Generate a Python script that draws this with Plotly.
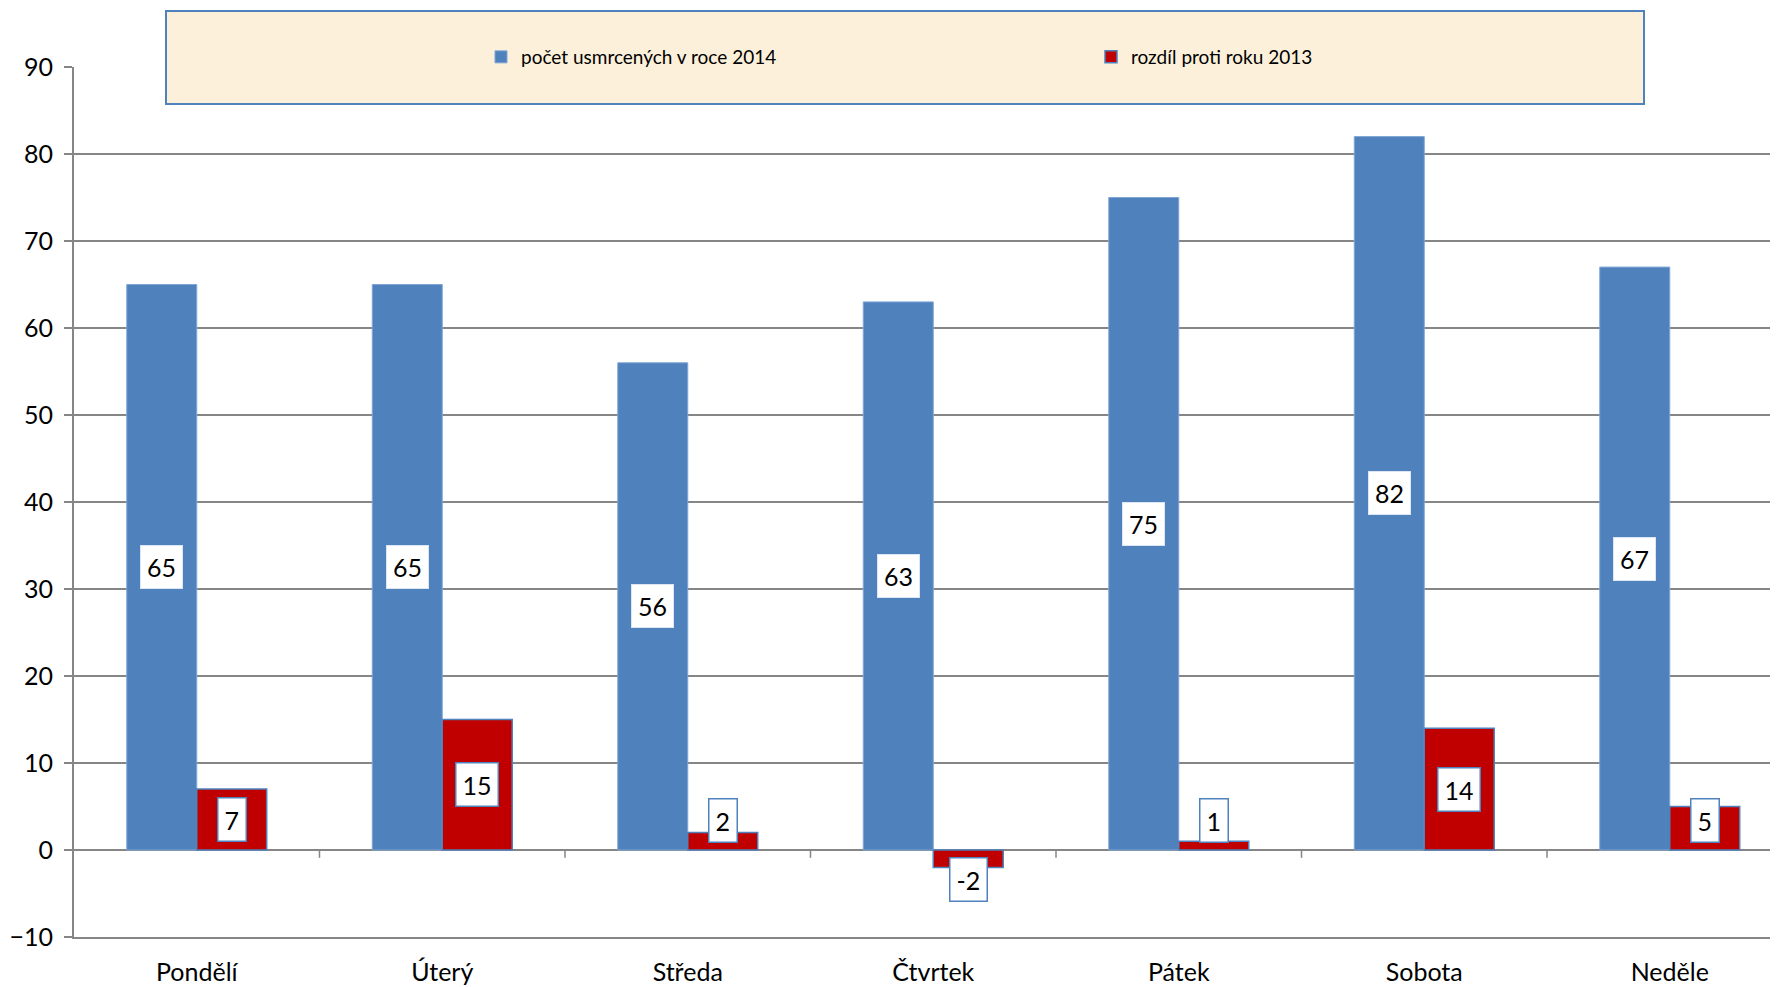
import plotly.graph_objects as go

days = ["Pondělí", "Úterý", "Středa", "Čtvrtek", "Pátek", "Sobota", "Neděle"]
killed_2014 = [65, 65, 56, 63, 75, 82, 67]
diff_2013 = [7, 15, 2, -2, 1, 14, 5]
y_ticks = [-10, 0, 10, 20, 30, 40, 50, 60, 70, 80, 90]

BLUE = "#4F81BD"
RED = "#C00000"
FONT = "Lato, 'Open Sans', sans-serif"

OFF = 8  # page body margin
W, H = 1778, 987
ML, MR, MT, MB = 74 - OFF, 0, 67 - OFF, H - (937 - OFF)
pw = W - ML - MR
ph = H - MT - MB
CAT_PX = 245.5

fig = go.Figure()
fig.add_trace(go.Bar(x=days, y=killed_2014, name="počet usmrcených v roce 2014",
                     marker=dict(color=BLUE, line=dict(color="#7EA6D6", width=1))))
fig.add_trace(go.Bar(x=days, y=diff_2013, name="rozdíl proti roku 2013",
                     marker=dict(color=RED, line=dict(color=BLUE, width=1.5))))

bargap = 0.43
off = (1 - bargap) / 4
MINLAB = 3.4
for i, (a, b) in enumerate(zip(killed_2014, diff_2013)):
    fig.add_annotation(x=i - off, y=a / 2, text=str(a), showarrow=False,
                       font=dict(size=25, color="black", family=FONT),
                       bgcolor="white", bordercolor="#DCE6F2", borderwidth=1, borderpad=6)
    yb = b / 2 if abs(b) / 2 >= MINLAB else (MINLAB if b >= 0 else -MINLAB)
    fig.add_annotation(x=i + off, y=yb, text=str(b), showarrow=False,
                       font=dict(size=25, color="black", family=FONT),
                       bgcolor="white", bordercolor=BLUE, borderwidth=1.5, borderpad=6)

# small category-boundary ticks at the zero line
shapes = []
for i in range(len(days) - 1):
    shapes.append(dict(type="line", xref="x", yref="y", x0=i + 0.5, x1=i + 0.5,
                       y0=0, y1=-0.9, line=dict(color="#868686", width=1.5)))
# legend box (page pixel coords -> paper)
def px_x(px):
    return (px - OFF - ML) / pw
def px_y(py):
    return (H - MB - (py - OFF)) / ph
shapes.append(dict(type="rect", xref="paper", yref="paper",
                   x0=px_x(166), x1=px_x(1644), y0=px_y(104), y1=px_y(11),
                   fillcolor="#FCF0DA", line=dict(color=BLUE, width=2), layer="above"))

fig.update_layout(
    width=W, height=H,
    margin=dict(l=ML, r=MR, t=MT, b=MB, autoexpand=False),
    paper_bgcolor="white", plot_bgcolor="white",
    barmode="group", bargap=bargap, bargroupgap=0,
    font=dict(family=FONT, size=22, color="black"),
    shapes=shapes,
    showlegend=True,
    legend=dict(orientation="h", x=px_x(481), y=px_y(57), xanchor="left", yanchor="middle",
                bgcolor="rgba(0,0,0,0)", font=dict(size=19, family=FONT, color="black"),
                entrywidth=565, entrywidthmode="pixels", itemwidth=30),
    xaxis=dict(range=[-0.5, -0.5 + pw / CAT_PX], showgrid=False, ticks="",
               showline=True, linecolor="#868686", linewidth=2,
               tickfont=dict(size=25, family=FONT), ticklabelstandoff=12),
    yaxis=dict(range=[-10, 90], tickvals=y_ticks, showgrid=True, gridcolor="#868686",
               gridwidth=2, zeroline=True, zerolinecolor="#868686", zerolinewidth=2,
               showline=True, linecolor="#868686", linewidth=2,
               ticks="outside", ticklen=8, tickcolor="#868686", tickwidth=2,
               tickfont=dict(size=25, family=FONT), ticklabelstandoff=6),
)

fig.write_html("out.html")
